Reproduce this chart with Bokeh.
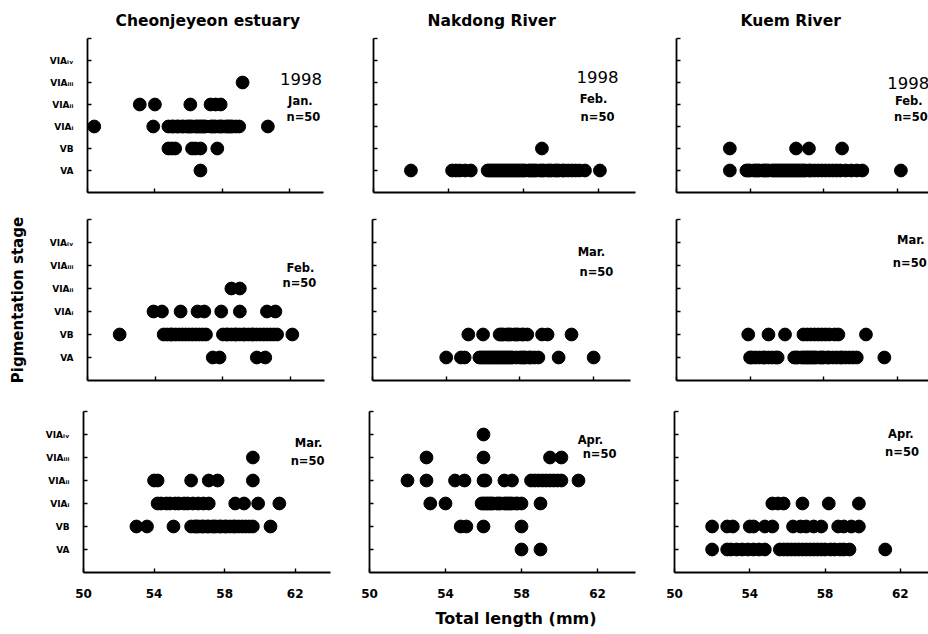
from bokeh.plotting import figure
from bokeh.layouts import column, row
from bokeh.models import Range1d, FixedTicker, Title
from bokeh.core.properties import value
from bokeh.embed import file_html
from bokeh.resources import INLINE

FONT = "DejaVu Sans"

# ---------------------------------------------------------------- data
STAGE_KEYS = ["VA", "VB", "VIA1", "VIA2", "VIA3", "VIA4"]
STAGE_LABELS = ["VA", "VB", "VIAᵢ", "VIAᵢᵢ", "VIAᵢᵢᵢ", "VIAᵢᵥ"]
X_TICKS = [50, 54, 58, 62]
SITES = ["Cheonjeyeon estuary", "Nakdong River", "Kuem River"]

# Total length (mm) of each fish, grouped by pigmentation stage (n=50 per sample)
cheonjeyeon_jan = {
    "VA": [56.7],
    "VB": [54.8, 55.0, 55.2, 56.2, 56.4, 56.7, 57.7],
    "VIA1": [50.4, 53.9, 54.8, 55.0, 55.1, 55.3, 55.4, 55.6, 55.7, 55.9, 56.0,
             56.1, 56.2, 56.4, 56.5, 56.6, 56.7, 56.8, 56.9, 57.0, 57.3, 57.4,
             57.5, 57.6, 57.8, 57.9, 58.0, 58.2, 58.3, 58.5, 58.6, 58.8, 59.0,
             60.7, 58.4],
    "VIA2": [53.1, 54.0, 56.1, 57.3, 57.6, 57.9],
    "VIA3": [59.2],
    "VIA4": [],
}
nakdong_feb = {
    "VA": [52.0, 54.2, 54.4, 54.6, 54.9, 55.2,
           56.1, 56.2, 56.3, 56.4, 56.5, 56.6, 56.7, 56.8, 56.9, 57.0,
           57.1, 57.2, 57.3, 57.4, 57.5, 57.6, 57.7, 57.8, 57.9, 58.0,
           58.1, 58.3, 58.4, 58.5, 58.6, 58.7, 58.9, 59.0, 59.1, 59.3,
           59.4, 59.5, 59.7, 59.8, 59.9, 60.1, 60.2, 60.4, 60.6, 60.8,
           61.0, 61.3, 62.1],
    "VB": [59.0],
    "VIA1": [], "VIA2": [], "VIA3": [], "VIA4": [],
}
kuem_feb = {
    "VA": [52.9, 53.8, 53.9, 54.0, 54.2, 54.3, 54.4, 54.5, 54.7, 54.8, 54.9,
           55.0, 55.2, 55.3, 55.4, 55.5, 55.6, 55.7, 55.8, 55.9, 56.0,
           56.1, 56.2, 56.3, 56.4, 56.5, 56.6, 56.7, 56.8, 56.9, 57.0,
           57.2, 57.3, 57.5, 57.7, 57.9, 58.1, 58.3, 58.5, 58.7, 58.9,
           59.2, 59.5, 59.8, 60.1, 62.2],
    "VB": [52.9, 56.5, 57.2, 59.0],
    "VIA1": [], "VIA2": [], "VIA3": [], "VIA4": [],
}
cheonjeyeon_feb = {
    "VA": [57.4, 57.8, 60.0, 60.5],
    "VB": [51.9, 54.5, 54.7, 54.9, 55.0, 55.2, 55.4, 55.6, 55.8, 56.0, 56.2,
           56.4, 56.6, 56.8, 57.0, 58.0, 58.2, 58.3, 58.5, 58.7, 58.8, 59.0,
           59.2, 59.3, 59.5, 59.7, 59.8, 60.0, 60.2, 60.4, 60.6, 60.8, 61.0,
           61.2, 62.1],
    "VIA1": [53.9, 54.4, 55.5, 56.5, 56.9, 57.9, 59.0, 60.6, 61.1],
    "VIA2": [58.5, 59.0],
    "VIA3": [], "VIA4": [],
}
nakdong_mar = {
    "VA": [54.0, 54.8, 55.0, 55.8, 55.9, 56.0, 56.1, 56.2, 56.3, 56.4, 56.5,
           56.6, 56.7, 56.8, 56.9, 57.0, 57.1, 57.2, 57.3, 57.4, 57.5, 57.6,
           57.8, 58.0, 58.1, 58.2, 58.3, 58.5, 58.6, 58.8, 59.0, 60.1, 62.0],
    "VB": [55.2, 56.0, 56.9, 57.0, 57.1, 57.3, 57.4, 57.5, 57.7, 57.8, 57.9,
           58.1, 58.2, 58.4, 59.2, 59.5, 60.8],
    "VIA1": [], "VIA2": [], "VIA3": [], "VIA4": [],
}
kuem_mar = {
    "VA": [54.0, 54.1, 54.3, 54.5, 54.7, 54.8, 55.0, 55.2, 55.4, 55.5,
           56.4, 56.5, 56.6, 56.8, 56.9, 57.0, 57.1, 57.2, 57.3, 57.4,
           57.5, 57.6, 57.8, 57.9, 58.0, 58.2, 58.3, 58.5, 58.7, 58.9,
           59.0, 59.2, 59.4, 59.6, 59.8, 61.3],
    "VB": [53.9, 55.0, 55.9, 56.9, 57.1, 57.3, 57.5, 57.7, 57.9, 58.1, 58.3,
           58.6, 58.8, 60.3],
    "VIA1": [], "VIA2": [], "VIA3": [], "VIA4": [],
}
cheonjeyeon_mar = {
    "VA": [],
    "VB": [53.0, 53.6, 55.1, 56.1, 56.3, 56.4, 56.5, 56.7, 56.8, 57.0, 57.1,
           57.3, 57.4, 57.5, 57.7, 57.8, 58.0, 58.1, 58.3, 58.5, 58.6, 58.8,
           59.0, 59.2, 59.4, 59.6, 60.6],
    "VIA1": [54.2, 54.4, 54.7, 54.9, 55.2, 55.4, 55.7, 55.9, 56.2, 56.5, 56.8,
             57.1, 58.6, 59.1, 59.9, 61.1],
    "VIA2": [54.0, 54.2, 56.1, 57.1, 57.6, 59.6],
    "VIA3": [59.6],
    "VIA4": [],
}
nakdong_apr = {
    "VA": [58.0, 59.0],
    "VB": [54.8, 55.1, 56.0, 58.0],
    "VIA1": [53.2, 54.0, 55.9, 56.0, 56.1, 56.2, 56.3, 56.4, 56.5, 56.7, 56.8,
             56.9, 57.1, 57.2, 57.3, 57.4, 57.5, 57.7, 57.8, 58.0, 59.0],
    "VIA2": [52.0, 53.0, 54.5, 55.0, 56.0, 56.1, 57.1, 57.5, 58.5, 58.7, 58.9,
             59.1, 59.3, 59.5, 59.7, 59.9, 60.1, 61.0],
    "VIA3": [53.0, 56.0, 59.5, 60.1],
    "VIA4": [56.0],
}
kuem_apr = {
    "VA": [52.0, 52.8, 53.0, 53.3, 53.6, 53.9, 54.2, 54.5, 54.8, 55.6, 55.8,
           56.0, 56.2, 56.4, 56.6, 56.8, 57.0, 57.2, 57.4, 57.6, 57.8, 58.0,
           58.3, 58.5, 58.8, 59.0, 59.3, 61.2],
    "VB": [52.0, 52.8, 53.1, 54.0, 54.2, 54.8, 55.2, 56.3, 56.7, 57.0, 57.4,
           57.8, 58.7, 59.0, 59.4, 59.8],
    "VIA1": [55.2, 55.5, 55.8, 56.8, 58.2, 59.8],
    "VIA2": [], "VIA3": [], "VIA4": [],
}

SAMPLES = [
    [cheonjeyeon_jan, nakdong_feb, kuem_feb],
    [cheonjeyeon_feb, nakdong_mar, kuem_mar],
    [cheonjeyeon_mar, nakdong_apr, kuem_apr],
]
# Sample notes: (text, x, y, large) in data coordinates of each panel
NOTES = [
    [
        [("1998", 62.67, 5.18, True), ("Jan.", 62.63, 4.18, False), ("n=50", 62.81, 3.41, False)],
        [("1998", 61.97, 5.23, True), ("Feb.", 61.76, 4.23, False), ("n=50", 61.97, 3.41, False)],
        [("1998", 62.6, 5.0, True), ("Feb.", 62.63, 4.18, False), ("n=50", 62.74, 3.41, False)],
    ],
    [
        [("Feb.", 62.58, 4.87, False), ("n=50", 62.52, 4.26, False)],
        [("Mar.", 61.88, 5.57, False), ("n=50", 62.15, 4.70, False)],
        [("Mar.", 62.74, 6.09, False), ("n=50", 62.68, 5.13, False)],
    ],
    [
        [("Mar.", 62.76, 5.61, False), ("n=50", 62.70, 4.83, False)],
        [("Apr.", 61.63, 5.74, False), ("n=50", 62.11, 5.17, False)],
        [("Apr.", 62.03, 6.04, False), ("n=50", 62.09, 5.22, False)],
    ],
]

# ---------------------------------------------------------------- layout
COL_W = [340, 310, 278]
ROW_H = [205, 190, 239]
BORDER_LEFT = [[87, 33, 26], [87, 32, 26], [83, 29, 24]]
BORDER_RIGHT = [[17, 15, 0], [16, 20, 0], [10, 15, 0]]
BORDER_TOP = [38, 14, 16]
BORDER_BOTTOM = [13, 15, 62]
X_END = [[64, 64, 63.7], [64, 64, 63.7], [64, 64, 63.5]]
TITLE_OFFSET = [28, 54, 64]


def style_axis(ax):
    ax.axis_line_width = 1.8
    ax.axis_line_color = "black"
    ax.major_tick_line_width = 1.4
    ax.major_tick_line_color = "black"
    ax.major_tick_in = 4
    ax.major_tick_out = 0
    ax.minor_tick_line_width = 1.4
    ax.minor_tick_line_color = "black"
    ax.minor_tick_in = 4
    ax.minor_tick_out = 0
    ax.major_label_text_font = FONT
    ax.major_label_text_font_style = "bold"
    ax.major_label_text_color = "black"


def hide_labels(ax):
    # tick marks only, no tick text
    ax.major_label_text_color = None
    ax.major_label_text_font_size = "1px"
    ax.major_label_standoff = 0


def make_panel(r, c):
    data = SAMPLES[r][c]
    p = figure(
        width=COL_W[c], height=ROW_H[r],
        x_range=Range1d(50, X_END[r][c]), y_range=Range1d(0, 7),
        output_backend="svg", toolbar_location=None, tools="", title=None,
        min_border_left=BORDER_LEFT[r][c], min_border_right=BORDER_RIGHT[r][c],
        min_border_top=BORDER_TOP[r], min_border_bottom=BORDER_BOTTOM[r],
    )
    p.outline_line_color = None
    p.background_fill_color = "white"
    p.border_fill_color = "white"
    p.xgrid.visible = False
    p.ygrid.visible = False

    xs, ys = [], []
    for level, key in enumerate(STAGE_KEYS, start=1):
        for v in data[key]:
            xs.append(v)
            ys.append(level)
    p.scatter(xs, ys, size=12.8, marker="circle", fill_color="black", line_color="black")

    for text, x, y, large in NOTES[r][c]:
        p.text(x=[x], y=[y], text=[text], text_align="center", text_baseline="middle",
               text_font=value(FONT), text_font_size="16.5px" if large else "11.5px",
               text_font_style="bold" if not large else "normal",
               text_color="black")

    style_axis(p.xaxis[0])
    style_axis(p.yaxis[0])

    p.xaxis.ticker = FixedTicker(ticks=X_TICKS)
    if r == 2:
        p.xaxis.major_label_text_font_size = "12px"
        p.xaxis.major_label_standoff = 16
    else:
        hide_labels(p.xaxis[0])

    # stage ticks, plus an unlabelled tick closing the top of the axis
    p.yaxis.ticker = FixedTicker(ticks=[1, 2, 3, 4, 5, 6], minor_ticks=[7])
    if c == 0:
        p.yaxis.major_label_overrides = {lvl: lab for lvl, lab in enumerate(STAGE_LABELS, start=1)}
        p.yaxis.major_label_text_font_size = "9px"
        p.yaxis.major_label_standoff = 14
    else:
        hide_labels(p.yaxis[0])

    if r == 0:
        p.title = Title(text=SITES[c], align="left", offset=TITLE_OFFSET[c],
                        text_font=FONT, text_font_size="15.5px", text_font_style="bold",
                        text_color="black", standoff=17)
    if r == 1 and c == 0:
        p.yaxis.axis_label = "Pigmentation stage"
        p.yaxis.axis_label_text_font = FONT
        p.yaxis.axis_label_text_font_size = "15px"
        p.yaxis.axis_label_text_font_style = "bold"
        p.yaxis.axis_label_text_color = "black"
        p.yaxis.axis_label_standoff = 20
    if r == 2 and c == 1:
        p.add_layout(Title(text="Total length (mm)", align="left", offset=66,
                           text_font=FONT, text_font_size="16px", text_font_style="bold",
                           text_color="black", standoff=13), "below")
    return p


rows = [row(*[make_panel(r, c) for c in range(3)]) for r in range(3)]
layout = column(*rows)

open("out.html", "w").write(file_html(layout, INLINE))
